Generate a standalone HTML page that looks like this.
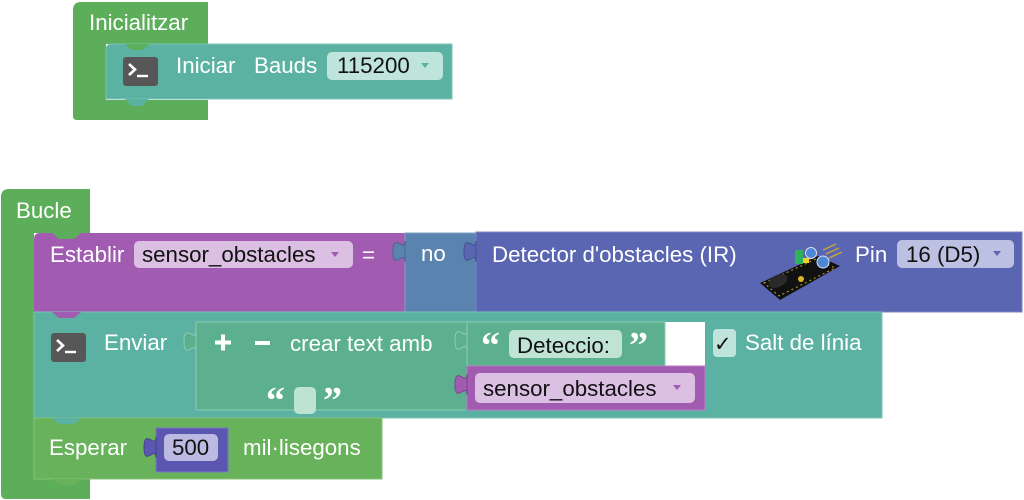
<!DOCTYPE html>
<html><head><meta charset="utf-8"><style>
html,body{margin:0;padding:0;background:#fff;}
svg{display:block;}
text{font-family:"Liberation Sans",Arial,sans-serif;font-size:22.3px;}
.w{fill:#fff;}
.k{fill:#111;}
.q{font-family:"Liberation Serif",serif;font-weight:bold;font-size:38px;fill:#fff;}
</style></head><body>
<svg width="1024" height="500" viewBox="0 0 1024 500" xmlns="http://www.w3.org/2000/svg">
<!-- Inicialitzar -->
<path d="M81,2 H208 V44 H106 V100 H208 V120 H77 Q73,120 73,116 V10 Q73,2 81,2 Z" fill="#5cae5a"/>
<path d="M106,50 Q106,44 112,44 H452 V99 H106 Z" fill="#5bb2a2" stroke="#7cc4b6" stroke-width="1"/>
<path d="M125,44 L132,50 L142,50 L149,44 Z" fill="#5cae5a"/>
<path d="M125,99 L132,106 L142,106 L149,99 Z" fill="#5bb2a2"/>
<text x="89" y="30" class="w">Inicialitzar</text>
<rect x="123" y="57" width="35" height="29" rx="3" fill="#575757"/>
<polyline points="129,64 135,69.5 129,75" fill="none" stroke="#fff" stroke-width="2.6"/>
<line x1="137" y1="76" x2="148" y2="76" stroke="#fff" stroke-width="2.4"/>
<text x="176" y="73" class="w">Iniciar</text>
<text x="254" y="73" class="w">Bauds</text>
<rect x="327" y="52" width="116" height="28" rx="5" fill="#bfe4dc"/>
<text x="337" y="73" class="k">115200</text>
<path d="M421,63 L429,63 L425,68 Z" fill="#5bb2a2"/>

<!-- Bucle -->
<path d="M9,189 H90 V233 H34 V479 H90 V499 H6 Q1,499 1,494 V197 Q1,189 9,189 Z" fill="#5cae5a"/>
<text x="16" y="218" class="w">Bucle</text>

<!-- Establir (purple) -->
<path d="M34,239 Q34,233 40,233 H405 V312 H34 Z" fill="#a15bb0"/>
<path d="M52,233 L59,239 L74,239 L81,233 Z" fill="#5cae5a"/>
<text x="50" y="262" class="w">Establir</text>
<rect x="134" y="241" width="219" height="27" rx="5" fill="#dcc0e4"/>
<text x="142" y="262" class="k">sensor_obstacles</text>
<path d="M331,252 L339,252 L335,257 Z" fill="#a15bb0"/>
<text x="362" y="262" class="w">=</text>

<!-- no -->
<rect x="405" y="233" width="71" height="79" fill="#5b83b0" stroke="#7fa0c4" stroke-width="1"/>
<path d="M405,241 c0,13 -12,-10 -12,10.5 s12,-3 12,10.5 Z" fill="#5b83b0" stroke="#48698f" stroke-width="1"/>
<text x="421" y="261" class="w">no</text>

<!-- Detector -->
<rect x="476" y="232" width="546" height="80" fill="#5a66b2" stroke="#7a84c2" stroke-width="1"/>
<path d="M476,241 c0,13 -12,-10 -12,10.5 s12,-3 12,10.5 Z" fill="#5a66b2" stroke="#45508f" stroke-width="1"/>
<text x="492" y="262" class="w">Detector d'obstacles (IR)</text>
<!-- sensor picture -->
<g>
<polygon points="760,283 818,256 840,266 780,300" fill="#111"/>
<polygon points="764,283 816,259 835,268 779,296" fill="none" stroke="#c9a820" stroke-width="1" stroke-dasharray="2,3"/>
<ellipse cx="778" cy="281" rx="10" ry="6" fill="#2a2a2a" transform="rotate(-25 778 281)"/>
<circle cx="801" cy="279" r="3" fill="#d9b52a"/>
<rect x="795" y="250" width="8" height="14" fill="#2fb35a"/>
<circle cx="811" cy="253" r="5.5" fill="#4c86d6" stroke="#dde" stroke-width="1"/>
<circle cx="823" cy="262" r="6" fill="#4c86d6" stroke="#dde" stroke-width="1"/>
<line x1="823" y1="250" x2="836" y2="244" stroke="#caa440" stroke-width="1.5"/>
<line x1="826" y1="254" x2="839" y2="248" stroke="#caa440" stroke-width="1.5"/>
<line x1="829" y1="258" x2="842" y2="252" stroke="#caa440" stroke-width="1.5"/>
<rect x="803" y="258" width="6" height="5" fill="#f0d030"/>
</g>
<text x="855" y="262" class="w">Pin</text>
<rect x="897" y="240" width="117" height="28" rx="5" fill="#bcc0e3"/>
<text x="906" y="262" class="k">16 (D5)</text>
<path d="M993,251 L1001,251 L997,256 Z" fill="#5a66b2"/>

<!-- Enviar (teal) -->
<rect x="34" y="312" width="848" height="106" fill="#5bb2a2" stroke="#7cc4b6" stroke-width="1"/>
<path d="M52,312 L59,318 L74,318 L81,312 Z" fill="#a15bb0"/>
<rect x="665" y="322" width="40" height="44" fill="#ffffff"/>
<rect x="51" y="333" width="35" height="29" rx="3" fill="#575757"/>
<polyline points="57,340 63,345.5 57,351" fill="none" stroke="#fff" stroke-width="2.6"/>
<line x1="65" y1="352" x2="76" y2="352" stroke="#fff" stroke-width="2.4"/>
<text x="104" y="350" class="w">Enviar</text>

<!-- join block -->
<rect x="196" y="322" width="271" height="88" fill="#5cb08f" stroke="#8fcbb3" stroke-width="1"/>
<path d="M196,331 c0,13 -12,-10 -12,10.5 s12,-3 12,10.5 Z" fill="#5cb08f" stroke="#8fcbb3" stroke-width="1"/>
<rect x="221" y="334.5" width="4" height="16" fill="#fff"/>
<rect x="215" y="340.5" width="16" height="4" fill="#fff"/>
<rect x="255" y="341" width="15" height="4" fill="#fff"/>
<text x="290" y="351" class="w">crear text amb</text>
<text x="266" y="413" class="q">“</text>
<rect x="294" y="387" width="22" height="27" rx="5" fill="#bde3d3"/>
<text x="323" y="413" class="q">”</text>

<!-- text block -->
<rect x="467" y="322" width="198" height="44" fill="#5cb08f" stroke="#8fcbb3" stroke-width="1"/>
<path d="M467,330 c0,13 -12,-10 -12,10.5 s12,-3 12,10.5 Z" fill="#5cb08f" stroke="#8fcbb3" stroke-width="1"/>
<text x="481" y="358" class="q">“</text>
<rect x="509" y="330" width="113" height="28" rx="5" fill="#bfe4d6"/>
<text x="517" y="353" class="k">Deteccio:</text>
<text x="629" y="358" class="q">”</text>

<!-- var block -->
<rect x="467" y="366" width="238" height="44" fill="#a15bb0" stroke="#b87dc4" stroke-width="1"/>
<path d="M467,374 c0,13 -12,-10 -12,10.5 s12,-3 12,10.5 Z" fill="#a15bb0" stroke="#7f4490" stroke-width="1"/>
<rect x="475" y="373" width="220" height="30" rx="5" fill="#dcc0e4"/>
<text x="483" y="396" class="k">sensor_obstacles</text>
<path d="M673,385 L681,385 L677,390 Z" fill="#a15bb0"/>

<!-- checkbox -->
<rect x="713" y="329" width="23" height="28" rx="4" fill="#bfe4dc"/>
<text x="714" y="351" class="k" style="font-family:'DejaVu Sans',sans-serif;font-size:21px">✓</text>
<text x="745" y="350" class="w">Salt de línia</text>

<!-- Esperar -->
<rect x="34" y="418" width="348" height="61" fill="#67b25a" stroke="#86c27b" stroke-width="1"/>
<path d="M52,418 L59,424 L74,424 L81,418 Z" fill="#5bb2a2"/>
<path d="M52,479 L59,485 L74,485 L81,479 Z" fill="#67b25a"/>
<text x="49" y="455" class="w">Esperar</text>
<rect x="156" y="428" width="72" height="44" fill="#5b57b0" stroke="#7d7ac2" stroke-width="1"/>
<path d="M156,437 c0,13 -12,-10 -12,10.5 s12,-3 12,10.5 Z" fill="#5b57b0" stroke="#45428f" stroke-width="1"/>
<rect x="164" y="434" width="54" height="27" rx="5" fill="#bcbae2"/>
<text x="172" y="455" class="k">500</text>
<text x="243" y="455" class="w">mil·lisegons</text>
</svg>
</body></html>
